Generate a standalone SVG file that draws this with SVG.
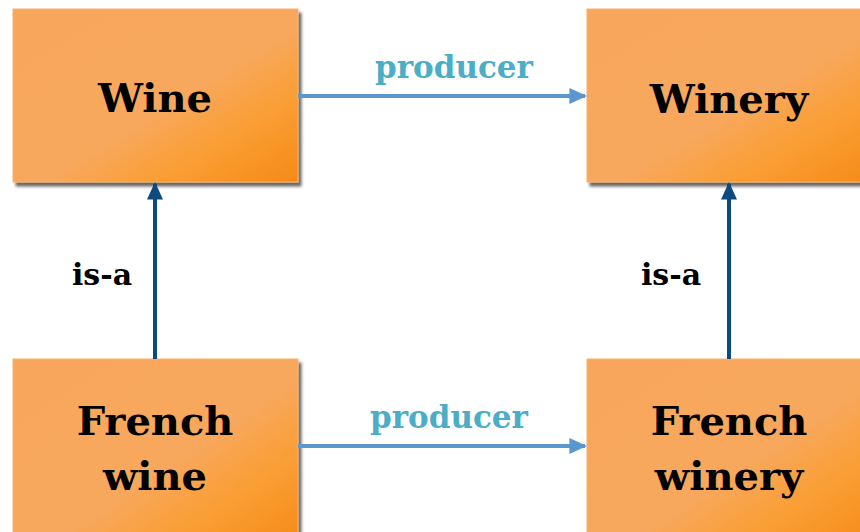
<svg xmlns="http://www.w3.org/2000/svg" width="860" height="532" viewBox="0 0 860 532">
<defs>
<linearGradient id="g" x1="0" y1="0" x2="1" y2="1">
<stop offset="0" stop-color="#f8a65a"/>
<stop offset="0.55" stop-color="#f8a85d"/>
<stop offset="0.75" stop-color="#fa9e34"/>
<stop offset="1" stop-color="#f58a17"/>
</linearGradient>
<filter id="sh" x="-10%" y="-10%" width="130%" height="130%">
<feGaussianBlur in="SourceAlpha" stdDeviation="1.5"/>
<feOffset dx="3" dy="4" result="b"/>
<feComponentTransfer><feFuncA type="linear" slope="0.6"/></feComponentTransfer>
<feMerge><feMergeNode/><feMergeNode in="SourceGraphic"/></feMerge>
</filter>
<marker id="ap" markerWidth="4.4" markerHeight="4" refX="3.9" refY="2" orient="auto" markerUnits="strokeWidth">
<path d="M0,0 L4.4,2 L0,4 Z" fill="#5b97cf"/>
</marker>
<marker id="ai" markerWidth="4.4" markerHeight="4" refX="3.9" refY="2" orient="auto" markerUnits="strokeWidth">
<path d="M0,0 L4.4,2 L0,4 Z" fill="#0d4a80"/>
</marker>
</defs>
<style>
.box{fill:url(#g);stroke:#f7b06b;stroke-width:1;filter:url(#sh)}
.t{font-family:"DejaVu Serif","Liberation Serif",serif;font-weight:bold;fill:#000;text-anchor:middle}
.big{font-size:40px}
.lbl{font-size:30px}
.pl{font-family:"DejaVu Serif","Liberation Serif",serif;font-weight:bold;fill:#4badc6;font-size:31px;text-anchor:middle}
.prod{stroke:#5b97cf;stroke-width:4;fill:none}
.isa{stroke:#0d4a80;stroke-width:4;fill:none}
</style>
<rect width="860" height="532" fill="#fff"/>
<g id="wine">
<rect class="box" x="13" y="9" width="285" height="173"/>
<text class="t big" x="155" y="112">Wine</text>
</g>
<g id="winery">
<rect class="box" x="587" y="9" width="290" height="173"/>
<text class="t big" x="729" y="113">Winery</text>
</g>
<g id="french-wine">
<rect class="box" x="13" y="359" width="285" height="190"/>
<text class="t big" x="155" y="435">French</text>
<text class="t big" x="155" y="490">wine</text>
</g>
<g id="french-winery">
<rect class="box" x="587" y="359" width="290" height="190"/>
<text class="t big" x="729" y="435">French</text>
<text class="t big" x="729" y="490">winery</text>
</g>
<g id="connectors">
<line class="prod" x1="298" y1="96" x2="585" y2="96" marker-end="url(#ap)"/>
<text class="pl" x="454" y="78">producer</text>
<line class="prod" x1="298" y1="446" x2="585" y2="446" marker-end="url(#ap)"/>
<text class="pl" x="449" y="428">producer</text>
<line class="isa" x1="155" y1="359" x2="155" y2="184" marker-end="url(#ai)"/>
<text class="t lbl" x="102" y="285">is-a</text>
<line class="isa" x1="729" y1="359" x2="729" y2="184" marker-end="url(#ai)"/>
<text class="t lbl" x="671" y="285">is-a</text>
</g>
</svg>
